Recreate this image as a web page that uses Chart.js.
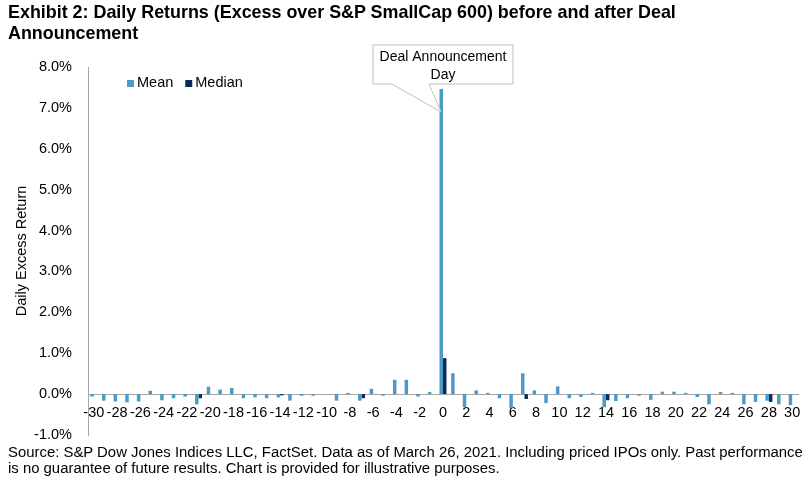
<!DOCTYPE html>
<html lang="en">
  <head>
    <meta charset="UTF-8" />
    <title>Exhibit 2</title>
    <script src="https://cdn.jsdelivr.net/npm/chart.js"></script>
    <style>
      body { margin: 0; background: #fff; font-family: "Liberation Sans", Arial, sans-serif; }
      #wrap { position: relative; width: 812px; height: 483px; overflow: hidden; }
      #title { position: absolute; left: 8px; top: 2px; font-weight: bold; font-size: 17.9px; line-height: 21px; color: #000; }
      #source { position: absolute; left: 8px; top: 444px; font-size: 14.9px; line-height: 16px; color: #000; white-space: nowrap; }
      canvas { position: absolute; left: 0; top: 0; }
    </style>
  </head>
  <body>
    <div id="wrap">
      <canvas id="myChart" width="812" height="483"></canvas>
      <div id="title">Exhibit 2: Daily Returns (Excess over S&amp;P SmallCap 600) before and after Deal<br>Announcement</div>
      <div id="source">Source: S&amp;P Dow Jones Indices LLC, FactSet. Data as of March 26, 2021. Including priced IPOs only. Past performance<br>is no guarantee of future results. Chart is provided for illustrative purposes.</div>
    </div>
  <script>
// days relative to the announcement
const days = [];
for (let d = -30; d <= 30; d++) days.push(d);

// daily excess return, %
const meanReturns = [
  -0.06, -0.16, -0.18, -0.20, -0.18, 0.08, -0.15, -0.10, -0.06, -0.25,
  0.18, 0.11, 0.15, -0.10, -0.08, -0.10, -0.08, -0.16, -0.04, -0.04,
  0.00, -0.16, 0.03, -0.16, 0.13, -0.04, 0.35, 0.35, -0.06, 0.05,
  7.46,
  0.51, -0.32, 0.09, 0.03, -0.10, -0.34, 0.51, 0.09, -0.22, 0.19,
  -0.10, -0.07, 0.03, -0.32, -0.17, -0.10, -0.04, -0.14, 0.06, 0.06,
  0.03, -0.07, -0.25, 0.05, 0.03, -0.25, -0.19, -0.16, -0.25, -0.27
];
const medianReturns = [
  0, 0, 0, 0, 0, 0, 0, 0, 0, -0.10,
  0, 0, 0, 0, 0, 0, -0.03, 0, 0, 0,
  0, 0, 0, -0.10, 0, 0, 0, 0, 0, 0,
  0.88,
  0, 0, 0, 0, 0, 0, -0.12, 0, 0, 0,
  0, 0, 0, -0.15, 0, 0, 0, 0, 0, 0,
  0, 0, 0, 0, 0, 0, 0, -0.19, 0, 0
];
const yTicks = [-1, 0, 1, 2, 3, 4, 5, 6, 7, 8];
const seriesNames = ['Mean', 'Median'];
const calloutText = ['Deal Announcement', 'Day'];

const font = '"Liberation Sans", Arial, sans-serif';

const extras = {
  id: 'extras',
  afterDraw(chart) {
    const ctx = chart.ctx;
    const area = chart.chartArea;
    ctx.save();
    // legend
    ctx.font = '14.5px ' + font;
    ctx.textBaseline = 'middle';
    let x = area.left + 39;
    const y = area.top + 16;
    chart.data.datasets.forEach(ds => {
      ctx.fillStyle = ds.backgroundColor;
      ctx.fillRect(x, y - 3, 7, 7);
      ctx.fillStyle = '#000';
      ctx.fillText(ds.label, x + 10, y);
      x += ctx.measureText(ds.label).width + 22;
    });
    // callout
    const xs = chart.scales.x, ys = chart.scales.y;
    const px = xs.getPixelForValue(days.indexOf(0)) - 2;
    const py = ys.getPixelForValue(6.9);
    const bx = 373, by = 45, bw = 140, bh = 39;
    ctx.strokeStyle = '#BFBFBF';
    ctx.lineWidth = 1;
    ctx.fillStyle = '#fff';
    ctx.beginPath();
    ctx.moveTo(bx, by);
    ctx.lineTo(bx + bw, by);
    ctx.lineTo(bx + bw, by + bh);
    ctx.lineTo(bx + 56, by + bh);
    ctx.lineTo(px, py);
    ctx.lineTo(bx + 19, by + bh);
    ctx.lineTo(bx, by + bh);
    ctx.closePath();
    ctx.fill();
    ctx.stroke();
    ctx.fillStyle = '#000';
    ctx.textAlign = 'center';
    ctx.font = '14px ' + font;
    ctx.fillText(calloutText[0], bx + bw / 2, by + 12);
    ctx.fillText(calloutText[1], bx + bw / 2, by + 30);
    ctx.restore();
  }
};

new Chart(document.getElementById('myChart'), {
  type: 'bar',
  data: {
    labels: days,
    datasets: [
      { label: seriesNames[0], data: meanReturns, backgroundColor: '#4B9BC6' },
      { label: seriesNames[1], data: medianReturns, backgroundColor: '#0B2C56' }
    ]
  },
  options: {
    responsive: false,
    animation: false,
    layout: { padding: { top: 67, left: 13, right: 14, bottom: 48 } },
    categoryPercentage: 0.6,
    barPercentage: 1.0,
    plugins: {
      legend: { display: false },
      tooltip: { enabled: false }
    },
    scales: {
      x: {
        position: { y: 0 },
        grid: { display: false },
        border: { display: true, color: '#A6A6A6' },
        ticks: {
          autoSkip: false,
          maxRotation: 0,
          padding: 2,
          color: '#000',
          font: { family: font, size: 14.5 },
          callback: (v, i) => days[i] % 2 === 0 ? String(days[i]) : ''
        }
      },
      y: {
        min: yTicks[0],
        max: yTicks[yTicks.length - 1],
        afterBuildTicks: s => { s.ticks = yTicks.map(v => ({ value: v })); },
        afterFit: s => { s.width = 75; },
        grid: { display: false },
        border: { display: true, color: '#A6A6A6' },
        title: {
          display: true,
          text: 'Daily Excess Return',
          color: '#000',
          font: { family: font, size: 14.5 },
          padding: 0
        },
        ticks: {
          color: '#000',
          padding: 8,
          font: { family: font, size: 14.5 },
          callback: v => v.toFixed(1) + '%'
        }
      }
    }
  },
  plugins: [extras]
});
  </script>
  </body>
</html>
